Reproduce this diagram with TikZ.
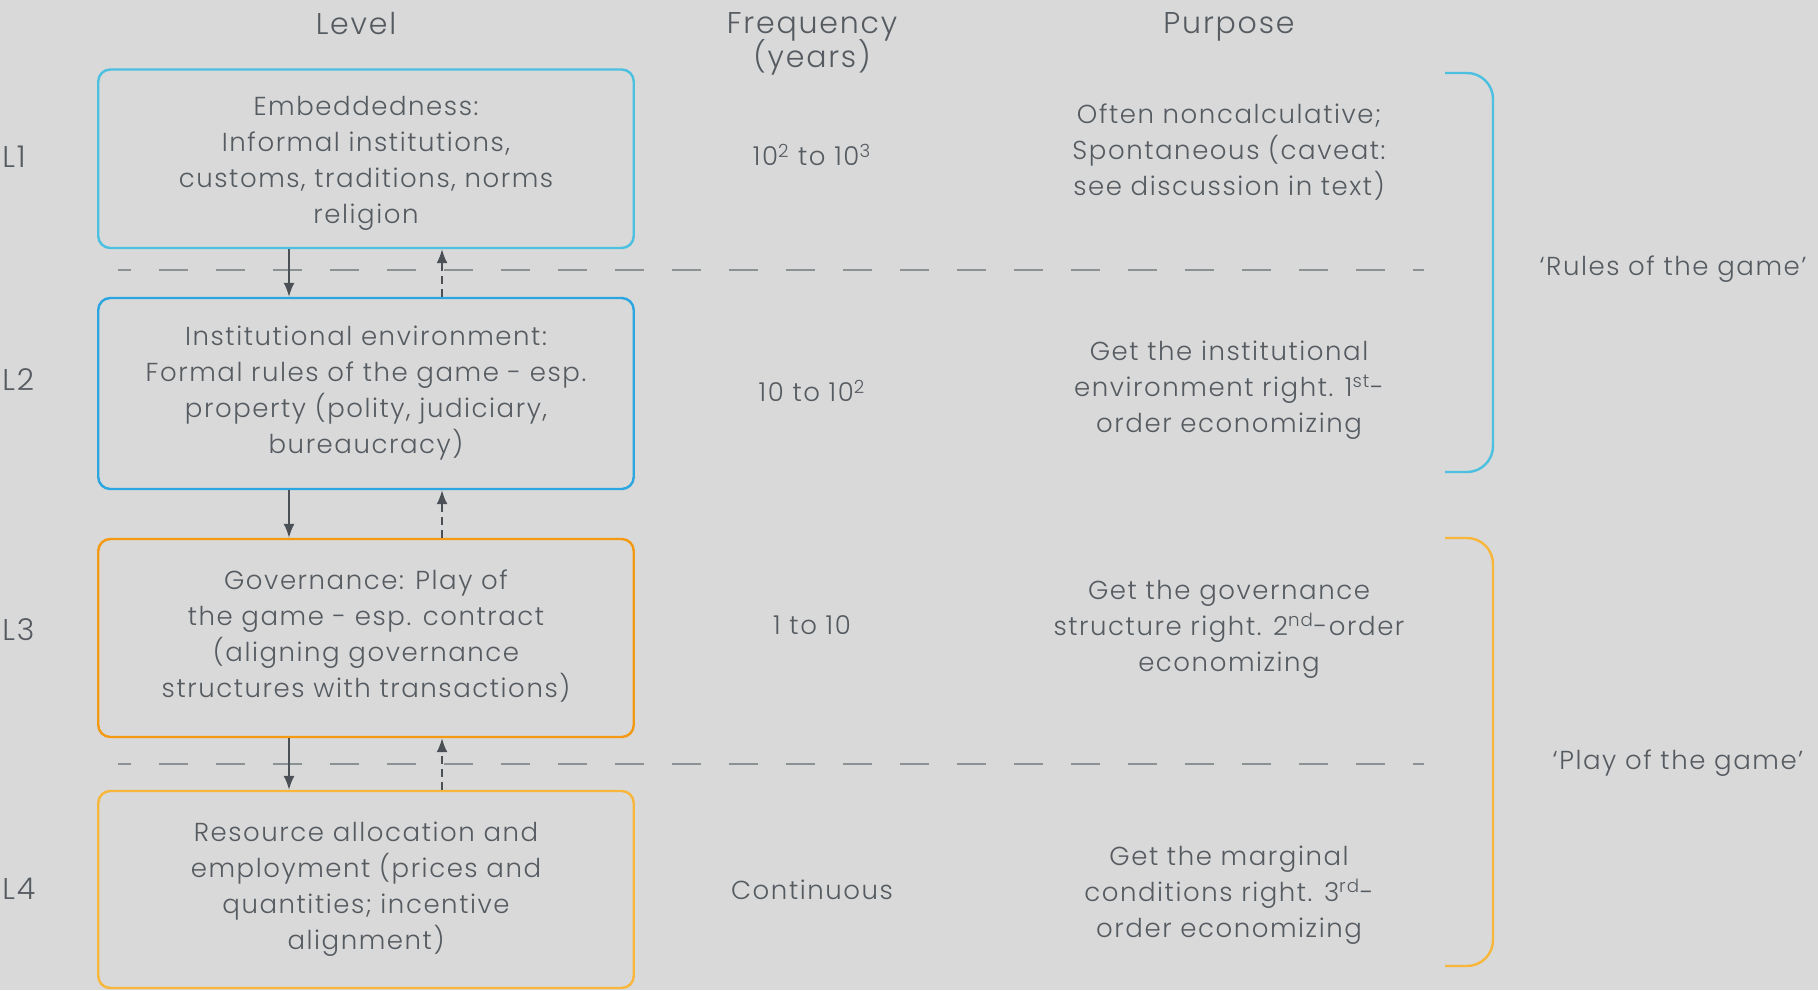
\documentclass[tikz,border=0pt]{standalone}
\usepackage{fontspec}
\setmainfont{Poppins}[UprightFont=* Light, LetterSpace=6]
\usetikzlibrary{arrows.meta}

\definecolor{bgray}{HTML}{D9D9D9}
\definecolor{tgray}{HTML}{555B61}
\definecolor{lgray}{HTML}{8C9194}
\definecolor{agray}{HTML}{4A5056}
\definecolor{cyanA}{HTML}{4BC0E0}
\definecolor{blueB}{HTML}{2BA6E1}
\definecolor{orangeC}{HTML}{F39A12}
\definecolor{orangeD}{HTML}{F8B63A}

\begin{document}
\begin{tikzpicture}[x=0.5pt, y=-0.5pt, font=\fontsize{13}{18}\selectfont, text=tgray,
  level/.style={draw, line width=1.2pt, rounded corners=6pt, minimum width=267.75pt,
    align=center, inner sep=0pt},
  col/.style={align=center},
  head/.style={align=center, font=\fontsize{15}{16.2}\selectfont},
  down/.style={agray, line width=0.9pt, -{Latex[length=7pt,width=5.5pt]}},
  up/.style={agray, line width=0.9pt, dash pattern=on 4pt off 2.5pt,
    -{Latex[length=7pt,width=5.5pt]}},
  sep/.style={lgray, line width=0.9pt, dash pattern=on 14.5pt off 14pt, dash phase=8pt},
  brace/.style={line width=1.2pt, rounded corners=13pt}]

  \useasboundingbox[fill=bgray] (0,0) rectangle (1818,990);

  % headers
  \node[head] (hlev) at (356,24) {Level};
  \node[head] (hfreq) at (812,44) {Frequency\\[-1.8pt](years)};
  \node[head] (hpur) at (1229,27) {Purpose};

  % the four levels
  \node[level, cyanA, minimum height=89.25pt] (b1) at (366,158.75)
    {\textcolor{tgray}{\raisebox{0pt}[\dimexpr\height+4.6pt]{Embeddedness:}}\\
     \textcolor{tgray}{Informal institutions,}\\
     \textcolor{tgray}{customs, traditions, norms}\\\textcolor{tgray}{religion}};
  \node[level, blueB, minimum height=95.5pt] (b2) at (366,393.5)
    {\textcolor{tgray}{Institutional environment:}\\\textcolor{tgray}{Formal rules of the game - esp.}\\
     \textcolor{tgray}{property (polity, judiciary,}\\\textcolor{tgray}{bureaucracy)}};
  \node[level, orangeC, minimum height=99pt] (b3) at (366,638)
    {\textcolor{tgray}{Governance: Play of}\\\textcolor{tgray}{the game - esp. contract}\\
     \textcolor{tgray}{(aligning governance}\\
     \textcolor{tgray}{\raisebox{0pt}[\height][\dimexpr\depth+2.3pt]{structures with transactions)}}};
  \node[level, orangeD, minimum height=98.5pt] (b4) at (366,889.5)
    {\textcolor{tgray}{Resource allocation and}\\\textcolor{tgray}{employment (prices and}\\
     \textcolor{tgray}{quantities; incentive}\\\textcolor{tgray}{alignment)}};

  \foreach \n/\y in {1/157,2/380,3/630,4/889}
    \node[anchor=west, inner sep=0pt, font=\fontsize{15}{18}\selectfont] (l\n) at (2,\y) {L\n};

  % frequency
  \node[col] (f1) at (812,155) {10\textsuperscript{2} to 10\textsuperscript{3}};
  \node[col] (f2) at (812,391) {10 to 10\textsuperscript{2}};
  \node[col] (f3) at (812,625) {1 to 10};
  \node[col] (f4) at (812,890) {Continuous};

  % purpose
  \node[col] (p1) at (1229,152) {Often noncalculative;\\Spontaneous (caveat:\\see discussion in text)};
  \node[col] (p2) at (1229,390) {Get the institutional\\environment right. 1\textsuperscript{st}-\\order economizing};
  \node[col] (p3) at (1229,629) {Get the governance\\structure right. 2\textsuperscript{nd}-order\\economizing};
  \node[col] (p4) at (1229,895) {Get the marginal\\conditions right. 3\textsuperscript{rd}-\\order economizing};

  % separators
  \draw[sep] (118,270) -- (1424,270);
  \draw[sep] (118,764) -- (1424,764);

  % links between levels
  \foreach \a/\b in {b1/b2,b2/b3,b3/b4}{
    \draw[down] ([xshift=-38.5pt]\a.south) -- ([xshift=-38.5pt]\b.north);
    \draw[up] ([xshift=38pt]\b.north) -- ([xshift=38pt]\a.south);
  }

  % braces
  \draw[brace, cyanA] (1445,73) -- (1493,73) -- (1493,472) -- (1445,472);
  \draw[brace, orangeD] (1445,538) -- (1493,538) -- (1493,966) -- (1445,966);

  \node (rules) at (1673,269) {‘Rules of the game’};
  \node (play) at (1678,763) {‘Play of the game’};
\end{tikzpicture}
\end{document}
